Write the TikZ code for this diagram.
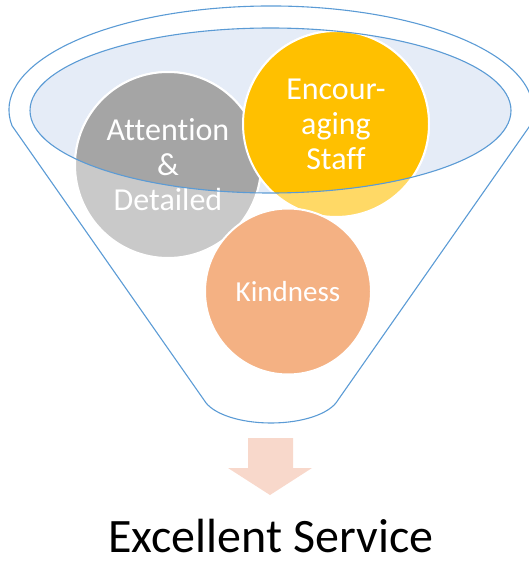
\documentclass[tikz,border=0pt]{standalone}
\usepackage{fontspec}
\setmainfont{Carlito}[Ligatures={NoCommon}]
\begin{document}
\begin{tikzpicture}[x=1pt,y=1pt,
  funnelline/.style={draw={rgb,255:red,91;green,155;blue,213}, line width=1.1pt},
  ball/.style={circle, draw=white, line width=2pt, inner sep=0pt},
  balltext/.style={text=white, align=center, font=\fontsize{32}{35}\selectfont},
  flow/.style={fill={rgb,255:red,248;green,216;blue,203}}
]
\definecolor{bowl}{RGB}{229,236,247}
\definecolor{greyfull}{RGB}{165,165,165}
\definecolor{greylight}{RGB}{201,201,201}
\definecolor{goldfull}{RGB}{255,192,0}
\definecolor{goldlight}{RGB}{255,217,102}
\definecolor{peach}{RGB}{244,177,131}

\useasboundingbox (0,0) rectangle (528,-561);

% funnel mouth
\fill[bowl] (270.5,-110.5) ellipse [x radius=240.5, y radius=82.5];

% balls, pale where they hang below the mouth
\node[ball, fill=greylight, minimum size=186] (att) at (168,-165) {};
\node[ball, fill=goldlight, minimum size=186] (enc) at (336,-124) {};
\node[ball, fill=peach, minimum size=166] (kin) at (288,-291.5) {};

% full colour inside the mouth
\begin{scope}
  \clip (270.5,-110.5) ellipse [x radius=240.5, y radius=82.5];
  \fill[greyfull, draw=white, line width=2pt] (att.center) circle [radius=93];
  \fill[goldfull, draw=white, line width=2pt] (enc.center) circle [radius=93];
\end{scope}

\node[balltext] at (att.center) {Attention\\\&\\Detailed};
\node[balltext] at (enc.center) {Encour-\\aging\\Staff};
\node[balltext, font=\fontsize{29}{35}\selectfont] at (kin.center) {Kindness};

% funnel outline
\draw[funnelline] (270.5,-110.5) ellipse [x radius=240.5, y radius=82.5];
\draw[funnelline] (12,-125.7)
  arc [start angle=188.7, end angle=-8.7, x radius=262, y radius=104]
  -- (338,-400)
  .. controls (330,-414) and (302,-423) .. (271,-423)
  .. controls (240,-423) and (212,-414) .. (204,-400) -- cycle;

% outflow arrow and result
\node[anchor=base, inner sep=0pt] (res) at (271,-552) {\fontsize{48}{58}\selectfont Excellent Service};
\fill[flow] (248,-438) -- (293,-438) -- (293,-468) -- (312,-468) -- (270,-495)
  -- (228,-468) -- (248,-468) -- cycle;
\end{tikzpicture}
\end{document}
